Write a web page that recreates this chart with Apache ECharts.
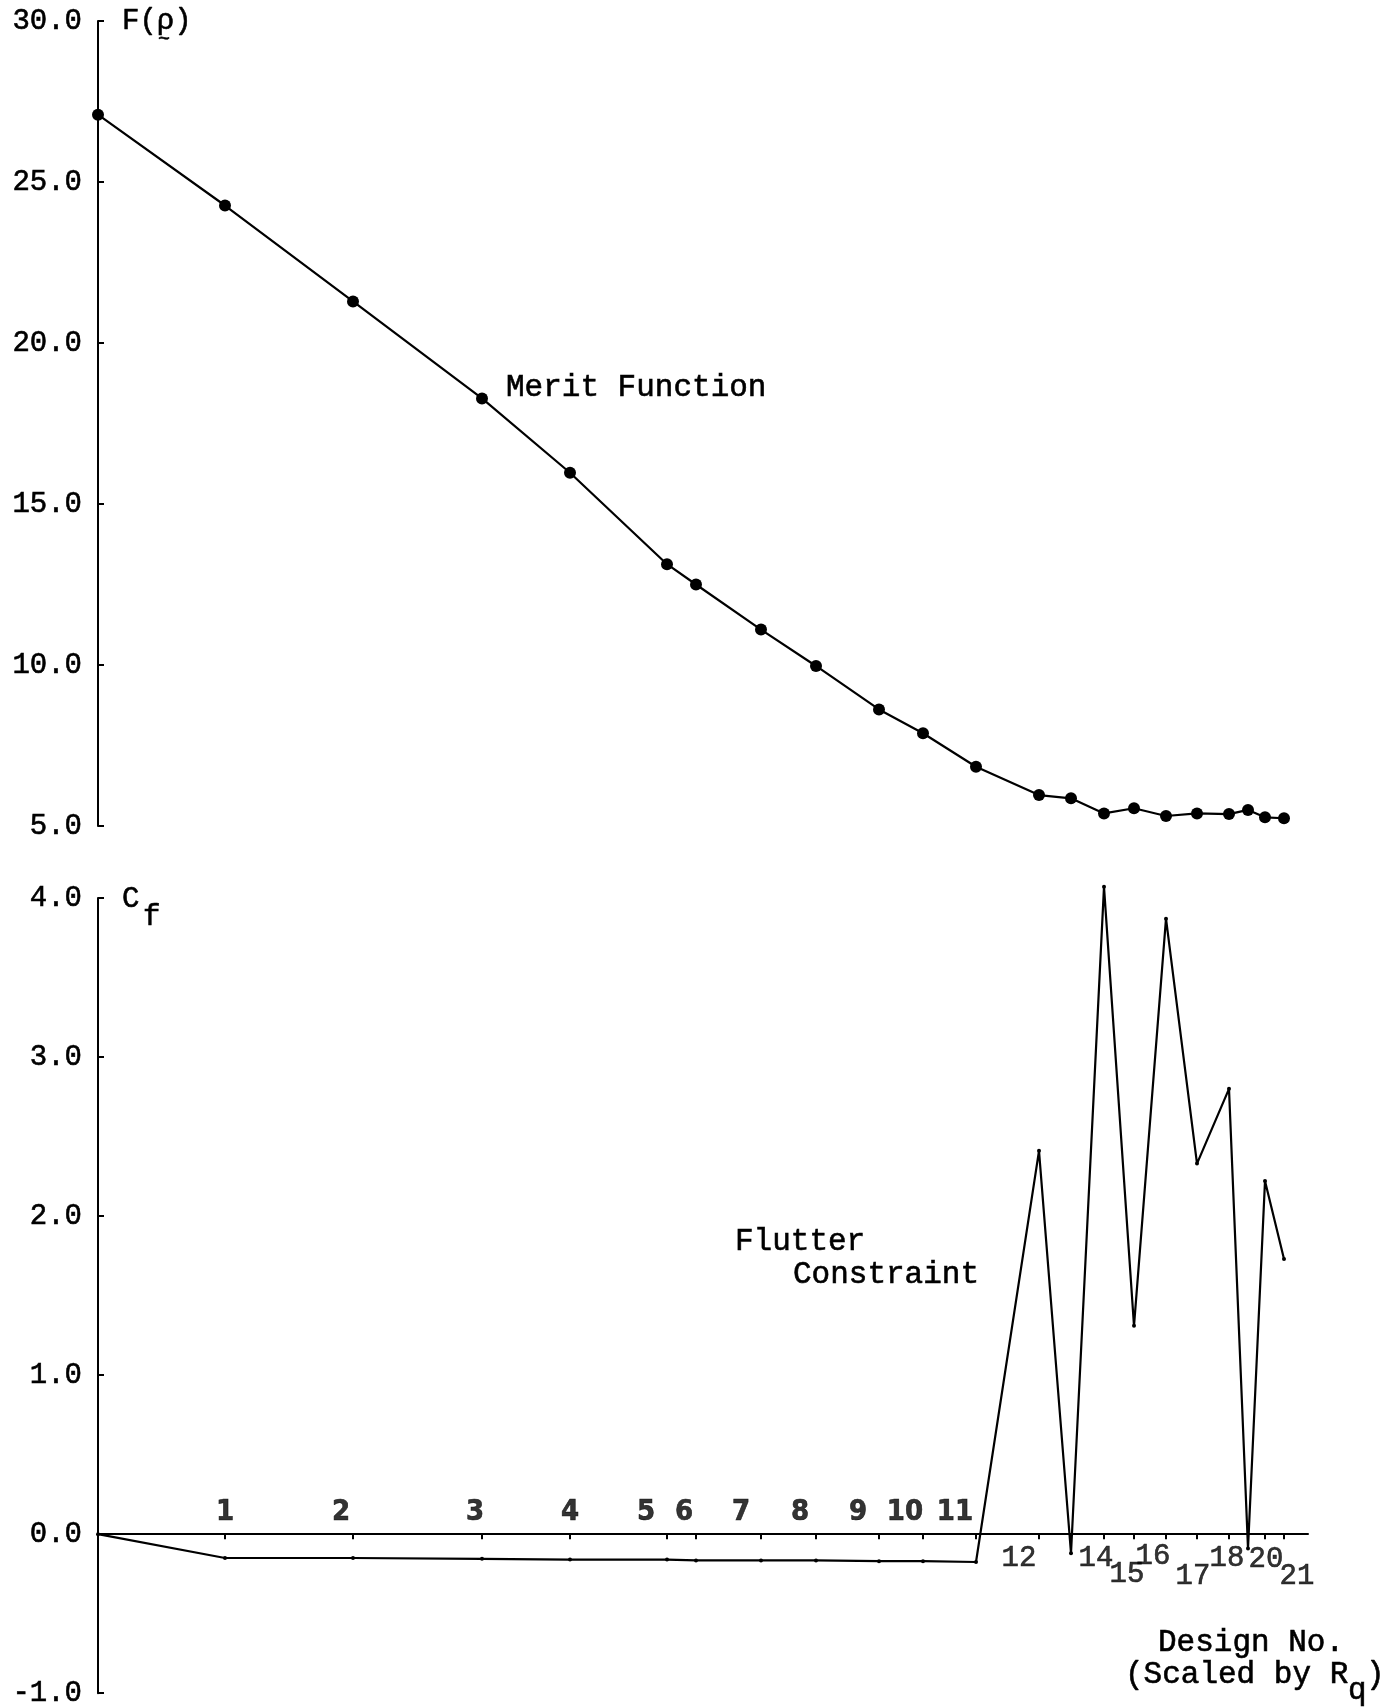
<!DOCTYPE html>
<html>
<head>
<meta charset="utf-8">
<script src="https://cdn.jsdelivr.net/npm/echarts@6/dist/echarts.min.js"></script>
<style>
    html, body { margin: 0; padding: 0; background: #fff; }
    #main { width: 1393px; height: 1708px; }
</style>
</head>
<body>
<div id="main"></div>
<script>
// design number position along the x axis (scaled by Rq), design 0..21
var designX = [0, 12.7, 25.5, 38.4, 47.2, 56.9, 59.8, 66.3, 71.8, 78.1, 82.5, 87.8,
               94.1, 97.3, 100.6, 103.6, 106.8, 109.9, 113.1, 115.0, 116.7, 118.6];
// merit function F(rho)
var meritF = [27.09, 24.27, 21.29, 18.28, 15.97, 13.13, 12.50, 11.10, 9.97, 8.62, 7.88, 6.84,
              5.96, 5.86, 5.39, 5.55, 5.31, 5.39, 5.37, 5.50, 5.27, 5.24];
// flutter constraint Cf
var flutterCf = [0.0, -0.15, -0.15, -0.155, -0.16, -0.16, -0.165, -0.165, -0.165, -0.17, -0.17, -0.175,
                 2.41, -0.12, 4.07, 1.31, 3.87, 2.33, 2.80, -0.09, 2.22, 1.73];
// design number labels ('' = not printed)
var designLabels = ['', '1', '2', '3', '4', '5', '6', '7', '8', '9', '10', '11',
                    '12', '', '14', '15', '16', '17', '18', '', '20', '21'];

var MONO = "'Liberation Mono', 'DejaVu Sans Mono', monospace";

// where each design number sits relative to its point on the zero line (px)
var labelOffset = {
    1: [0, -22], 2: [-12, -22], 3: [-7, -22], 4: [0, -22], 5: [-21, -22], 6: [-12, -22],
    7: [-20, -22], 8: [-16, -22], 9: [-21, -22], 10: [-18, -22], 11: [-21, -22],
    12: [-20, 24], 14: [-8, 24], 15: [-7, 40], 16: [-13, 22], 17: [-4, 42], 18: [-2, 24],
    20: [1, 25], 21: [13, 42]
};

function pairs(xs, ys) {
    var out = [];
    for (var i = 0; i < xs.length; i++) {
        out.push([xs[i], ys[i]]);
    }
    return out;
}

function labelData() {
    var out = [];
    for (var i = 0; i < designLabels.length; i++) {
        if (designLabels[i] === '') continue;
        var big = i <= 11;   // 1..11 typed above the line, 12.. below in the other typeface
        out.push({
            name: designLabels[i],
            value: [designX[i], 0],
            label: {
                offset: labelOffset[i],
                fontFamily: big ? "'DejaVu Sans Condensed', 'DejaVu Sans Mono', sans-serif" : MONO,
                fontWeight: big ? 'bold' : 'normal',
                fontSize: big ? 29 : 29
            }
        });
    }
    return out;
}

function yAxisOf(grid, min, max, step) {
    return {
        type: 'value',
        gridIndex: grid,
        min: min,
        max: max,
        interval: step,
        axisLine: { show: true, onZero: false, lineStyle: { color: '#000', width: 2 } },
        axisTick: { show: true, inside: true, length: 6, lineStyle: { color: '#000', width: 2 } },
        axisLabel: {
            margin: 16,
            color: '#000',
            fontFamily: MONO,
            fontSize: 29,
            textBorderColor: '#000',
            textBorderWidth: 0.6,
            formatter: function (v) { return v.toFixed(1); }
        },
        splitLine: { show: false }
    };
}

function txt(x, y, text, size, align) {
    return {
        type: 'text',
        x: x,
        y: y,
        style: {
            text: text,
            fill: '#000',
            stroke: '#000',
            lineWidth: 0.6,
            font: size + 'px ' + MONO,
            align: align || 'left',
            verticalAlign: 'middle'
        }
    };
}

function loadEchart() {
    var myChart = echarts.init(document.getElementById('main'));

    var option = {
        backgroundColor: '#fff',
        animation: false,
        grid: [
            { left: 98, right: 85, top: 21, height: 805 },
            { left: 98, right: 85, top: 898, height: 800 }
        ],
        xAxis: [
            { type: 'value', gridIndex: 0, min: 0, max: 121, show: false },
            {
                type: 'value',
                gridIndex: 1,
                min: 0,
                max: 121,
                axisLine: { show: true, onZero: true, lineStyle: { color: '#000', width: 2 } },
                axisTick: { show: true, length: 5, customValues: designX.slice(1), lineStyle: { color: '#000', width: 2 } },
                axisLabel: { show: false },
                splitLine: { show: false }
            }
        ],
        yAxis: [
            yAxisOf(0, 5, 30, 5),
            yAxisOf(1, -1, 4, 1)
        ],
        series: [
            {
                name: 'Merit Function',
                type: 'line',
                xAxisIndex: 0,
                yAxisIndex: 0,
                data: pairs(designX, meritF),
                symbol: 'circle',
                symbolSize: 12,
                clip: false,
                lineStyle: { color: '#000', width: 2.2 },
                itemStyle: { color: '#000' }
            },
            {
                name: 'Flutter Constraint',
                type: 'line',
                xAxisIndex: 1,
                yAxisIndex: 1,
                data: pairs(designX, flutterCf),
                symbol: 'circle',
                symbolSize: 4,
                clip: false,
                lineStyle: { color: '#000', width: 2.2 },
                itemStyle: { color: '#000' }
            },
            {
                name: 'Design No.',
                type: 'scatter',
                xAxisIndex: 1,
                yAxisIndex: 1,
                symbolSize: 0,
                silent: true,
                data: labelData(),
                label: {
                    show: true,
                    position: 'inside',
                    color: '#000',
                    textBorderColor: '#000',
                    textBorderWidth: 0.6,
                    formatter: '{b}'
                }
            }
        ],
        graphic: [
            txt(122, 21, 'F(ρ)', 29),
            txt(158, 40, '~', 20),
            txt(122, 899, 'C', 29),
            txt(143, 917, 'f', 29),
            txt(506, 388, 'Merit Function', 31),
            txt(735, 1242, 'Flutter', 31),
            txt(793, 1275, 'Constraint', 31),
            txt(1158, 1643, 'Design No.', 31),
            txt(1125, 1675, '(Scaled by R', 31),
            txt(1348, 1691, 'q', 31),
            txt(1366, 1675, ')', 31)
        ]
    };

    myChart.setOption(option);
}

loadEchart();
</script>
</body>
</html>
